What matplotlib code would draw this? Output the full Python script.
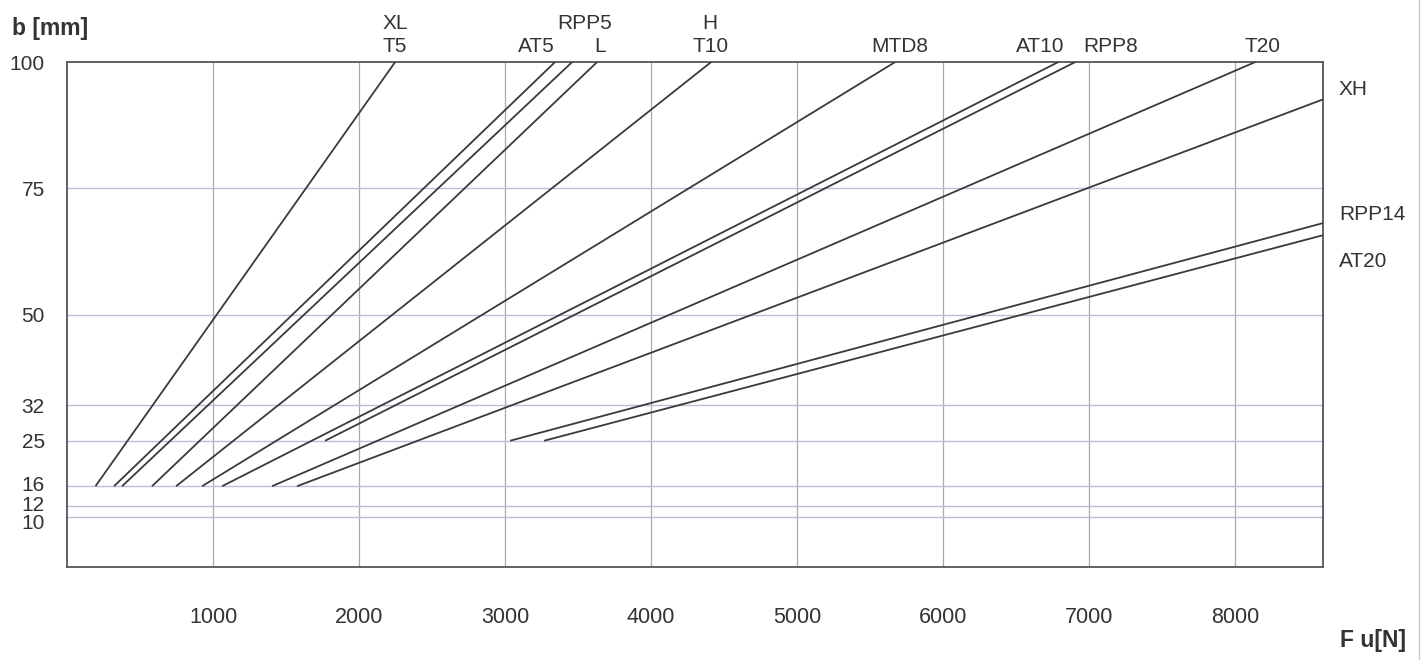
import matplotlib
matplotlib.use('Agg')
from matplotlib import pyplot as plt
from matplotlib import transforms
from matplotlib.lines import Line2D

# belt types: start (F, b) and end (F, b) of each line
belts = ['XL/T5', 'AT5', 'RPP5', 'L', 'H/T10', 'MTD8', 'AT10', 'RPP8', 'T20', 'XH', 'RPP14', 'AT20']
f_start = [195, 322, 377, 582, 747, 925, 1062, 1767, 1404, 1575, 3034, 3267]
b_start = [16, 16, 16, 16, 16, 16, 16, 25, 16, 16, 25, 25]
f_end = [2247, 3342, 3459, 3630, 4411, 5671, 6788, 6904, 8137, 8600, 8600, 8600]
b_end = [100, 100, 100, 100, 100, 100, 100, 100, 100, 92.6, 68.1, 65.7]

x_ticks = [1000, 2000, 3000, 4000, 5000, 6000, 7000, 8000]
y_ticks = [10, 12, 16, 25, 32, 50, 75, 100]

# labels above the plot: (text, F position, row)
top_labels = [('XL', 2247, 1), ('T5', 2247, 0), ('RPP5', 3541, 1), ('AT5', 3212, 0),
              ('L', 3651, 0), ('H', 4404, 1), ('T10', 4404, 0), ('MTD8', 5699, 0),
              ('AT10', 6664, 0), ('RPP8', 7144, 0), ('T20', 8185, 0)]
# labels right of the plot: (text, b position)
right_labels = [('XH', 94.6), ('RPP14', 69.9), ('AT20', 60.4)]

plt.rcParams['font.family'] = ['Liberation Sans', 'DejaVu Sans']
txt = '#333333'

fig = plt.figure(figsize=(14.23, 6.6), dpi=100)
ax = fig.add_axes([67/1423, 1 - 567/660, (1323-67)/1423, (567-62)/660])
ax.set_xlim(0, 8600)
ax.set_ylim(0, 100)

for x in x_ticks:
    ax.axvline(x, color='#a8a8b0', lw=0.9, zorder=1)
for y in y_ticks[:-1]:
    ax.axhline(y, color='#bdbdd6', lw=1.0, zorder=1)

for fs, bs, fe, be in zip(f_start, b_start, f_end, b_end):
    ax.plot([fs, fe], [bs, be], color='#3a3a3a', lw=1.3, zorder=3, solid_capstyle='butt')

ax.set_xticks(x_ticks)
ax.set_xticklabels([str(v) for v in x_ticks], fontsize=15.5, color=txt)
ax.set_yticks(y_ticks)
ax.set_yticklabels([str(v) for v in y_ticks], fontsize=15, color=txt)
ax.tick_params(axis='x', length=0, pad=29)
ax.tick_params(axis='y', length=0, pad=16)
# spread the crowded 16 / 12 / 10 labels a little
shift_px = {'16': 3, '12': 3, '10': -5}
for lbl in ax.get_yticklabels():
    dy = shift_px.get(lbl.get_text(), 0)
    if dy:
        lbl.set_transform(lbl.get_transform() + transforms.ScaledTranslation(0, dy/100, fig.dpi_scale_trans))
for s in ax.spines.values():
    s.set_color('#555555')
    s.set_linewidth(1.3)

trans = transforms.blended_transform_factory(ax.transData, ax.transAxes)
for t, fx, row in top_labels:
    ax.text(fx, 1.030 + row * 0.047, t, transform=trans, ha='center', va='center',
            fontsize=15, color=txt, clip_on=False)
for t, by in right_labels:
    ax.text(1.0127, by, t, transform=transforms.blended_transform_factory(ax.transAxes, ax.transData),
            ha='left', va='center', fontsize=15, color=txt, clip_on=False)

fig.text(12/1423, 1 - 28/660, 'b [mm]', fontsize=16.5, fontweight='bold', color=txt, va='center')
fig.text(1340/1423, 1 - 640/660, 'F u[N]', fontsize=16.5, fontweight='bold', color=txt, va='center')
fig.add_artist(Line2D([1419/1423, 1419/1423], [0, 1], color='#c8c8c8', lw=1))

fig.savefig('out.png', dpi=100)
